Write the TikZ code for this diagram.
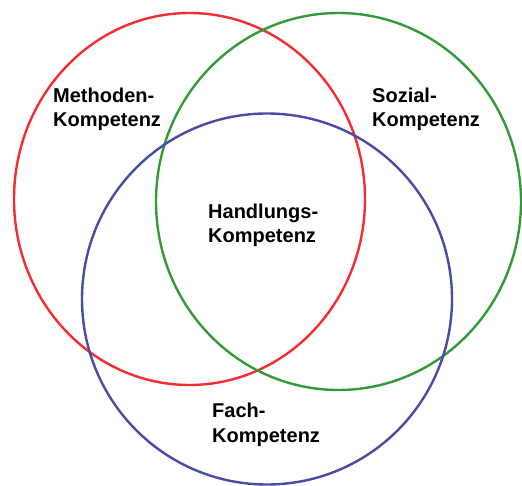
\documentclass[tikz,border=0pt]{standalone}
\usepackage{fontspec}
\setmainfont{Liberation Sans}
\usepackage{tikz}

\definecolor{kred}{RGB}{245,45,50}
\definecolor{kgreen}{RGB}{50,155,55}
\definecolor{kblue}{RGB}{75,75,165}

\tikzset{
  ring/.style={line width=2.4pt},
  lbl/.style={anchor=base west,inner sep=0pt,align=left,
    font=\fontsize{20}{24.5}\selectfont\bfseries}
}

\begin{document}
\begin{tikzpicture}[x=1pt,y=-1pt]
\useasboundingbox (0,0) rectangle (522,486);

\draw[ring,kred]   (189.5,199) ellipse [x radius=175.5,y radius=186];
\draw[ring,kgreen] (338.5,201.5) ellipse [x radius=182.5,y radius=188.5];
\draw[ring,kblue]  (267,299) ellipse [x radius=185,y radius=185.5];

% base of the node = baseline of its last line
\node (methoden)  at (53,127)  [lbl] {Methoden-\\Kompetenz};
\node (sozial)    at (372,127) [lbl] {Sozial-\\Kompetenz};
\node (handlungs) at (208,243) [lbl] {Handlungs-\\Kompetenz};
\node (fach)      at (212,442) [lbl] {Fach-\\Kompetenz};
\end{tikzpicture}
\end{document}
